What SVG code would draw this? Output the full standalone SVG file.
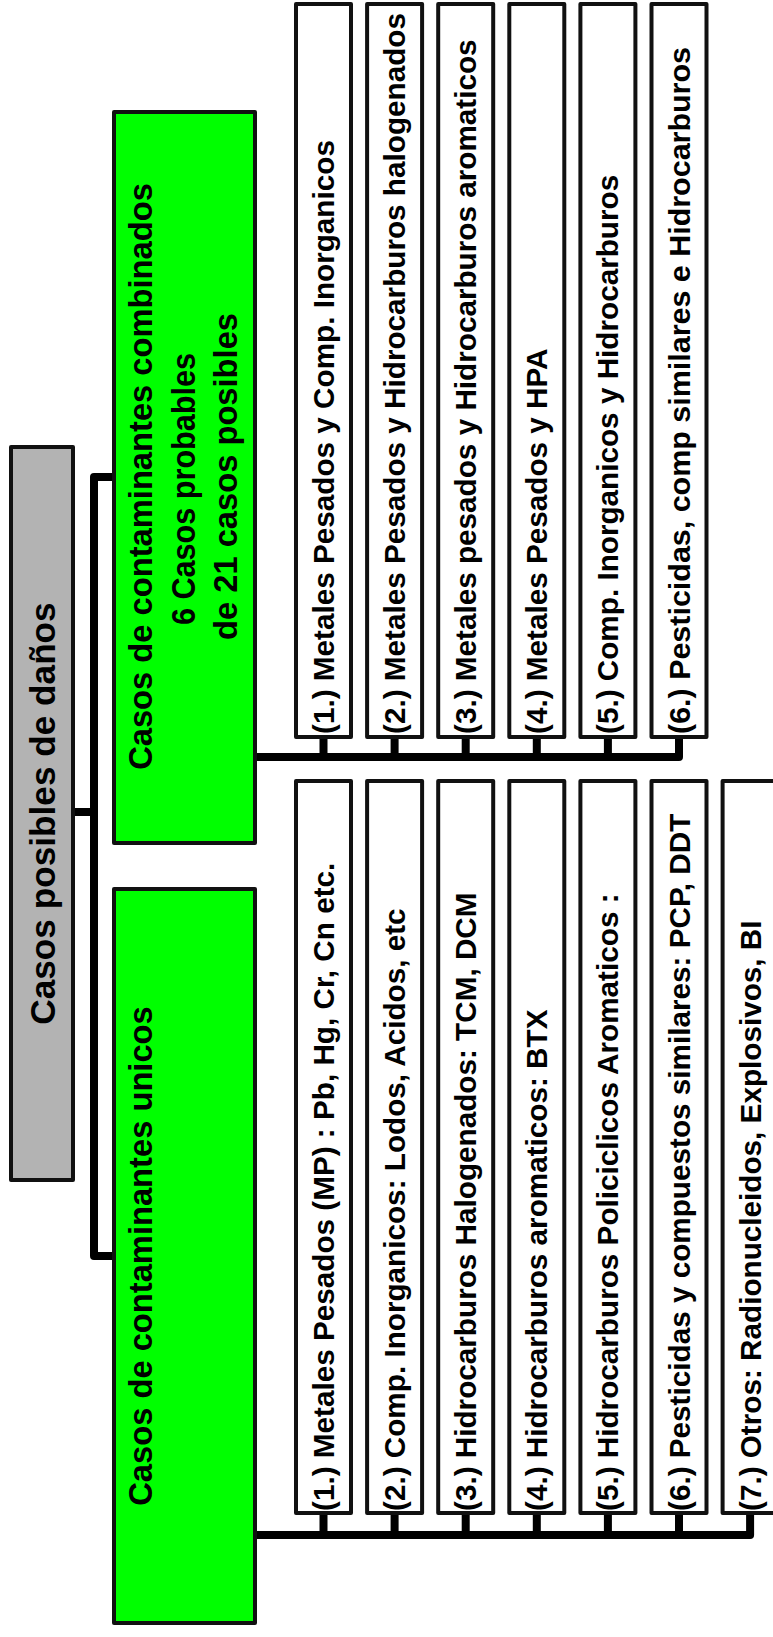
<svg xmlns="http://www.w3.org/2000/svg" width="773" height="1637" viewBox="0 0 773 1637">
<style>
.box{stroke:#111;stroke-width:4;stroke-linejoin:round}
.root{fill:#b3b3b3}
.green{fill:#00ff00}
.item{fill:#ffffff}
.conn{fill:none;stroke:#000;stroke-width:8;stroke-linejoin:round}
text{font-family:"Liberation Sans",Arial,sans-serif;fill:#000}
.t-root{font-size:35.2px;font-weight:bold}
.t-green{font-size:32.7px;font-weight:bold;text-anchor:middle}
.t-item{font-size:29.7px;font-weight:bold}
</style>
<rect width="773" height="1637" fill="#fff"/>
<g id="connectors" class="conn">
<path d="M75,812 H94"/>
<path d="M112,477 H94 V1256 H112"/>
<path d="M257,757 H679 V739"/>
<path d="M323.5,757 V739 M394.6,757 V739 M465.7,757 V739 M536.8,757 V739 M607.9,757 V739"/>
<path d="M257,1535 H750.1 V1515"/>
<path d="M323.5,1535 V1515 M394.6,1535 V1515 M465.7,1535 V1515 M536.8,1535 V1515 M607.9,1535 V1515 M679,1535 V1515"/>
</g>
<g id="root">
<rect class="box root" x="11" y="447" width="62" height="733"/>
<text class="t-root" text-anchor="middle" transform="translate(55,813.5) rotate(-90)">Casos posibles de daños</text>
</g>
<g id="combinados">
<rect class="box green" x="114" y="112" width="141" height="731"/>
<text class="t-green" transform="translate(152,476.5) rotate(-90)">Casos de contaminantes combinados</text>
<text class="t-green" transform="translate(194.5,489) rotate(-90)" textLength="272" lengthAdjust="spacingAndGlyphs">6 Casos probables</text>
<text class="t-green" transform="translate(237,476.5) rotate(-90)">de 21 casos posibles</text>
</g>
<g id="unicos">
<rect class="box green" x="114" y="889" width="141" height="734"/>
<text class="t-green" transform="translate(152,1256) rotate(-90)">Casos de contaminantes unicos</text>
</g>
<g id="comb1">
<rect class="box item" x="296" y="4" width="55" height="733"/>
<text class="t-item" transform="translate(334,734) rotate(-90)">(1.) Metales Pesados y Comp. Inorganicos</text>
</g>
<g id="comb2">
<rect class="box item" x="367.1" y="4" width="55" height="733"/>
<text class="t-item" transform="translate(405.1,734) rotate(-90)">(2.) Metales Pesados y Hidrocarburos halogenados</text>
</g>
<g id="comb3">
<rect class="box item" x="438.2" y="4" width="55" height="733"/>
<text class="t-item" transform="translate(476.2,734) rotate(-90)">(3.) Metales pesados y Hidrocarburos aromaticos</text>
</g>
<g id="comb4">
<rect class="box item" x="509.3" y="4" width="55" height="733"/>
<text class="t-item" transform="translate(547.3,734) rotate(-90)">(4.) Metales Pesados y HPA</text>
</g>
<g id="comb5">
<rect class="box item" x="580.4" y="4" width="55" height="733"/>
<text class="t-item" transform="translate(618.4,734) rotate(-90)">(5.) Comp. Inorganicos y Hidrocarburos</text>
</g>
<g id="comb6">
<rect class="box item" x="651.5" y="4" width="55" height="733"/>
<text class="t-item" transform="translate(689.5,734) rotate(-90)" textLength="687" lengthAdjust="spacingAndGlyphs">(6.) Pesticidas, comp similares e Hidrocarburos</text>
</g>
<g id="uni1">
<rect class="box item" x="296" y="781" width="55" height="732"/>
<text class="t-item" transform="translate(334,1511) rotate(-90)">(1.) Metales Pesados (MP) : Pb, Hg, Cr, Cn etc.</text>
</g>
<g id="uni2">
<rect class="box item" x="367.1" y="781" width="55" height="732"/>
<text class="t-item" transform="translate(405.1,1511) rotate(-90)">(2.) Comp. Inorganicos: Lodos, Acidos, etc</text>
</g>
<g id="uni3">
<rect class="box item" x="438.2" y="781" width="55" height="732"/>
<text class="t-item" transform="translate(476.2,1511) rotate(-90)">(3.) Hidrocarburos Halogenados: TCM, DCM</text>
</g>
<g id="uni4">
<rect class="box item" x="509.3" y="781" width="55" height="732"/>
<text class="t-item" transform="translate(547.3,1511) rotate(-90)">(4.) Hidrocarburos aromaticos: BTX</text>
</g>
<g id="uni5">
<rect class="box item" x="580.4" y="781" width="55" height="732"/>
<text class="t-item" transform="translate(618.4,1511) rotate(-90)">(5.) Hidrocarburos Policiclicos Aromaticos :</text>
</g>
<g id="uni6">
<rect class="box item" x="651.5" y="781" width="55" height="732"/>
<text class="t-item" transform="translate(689.5,1511) rotate(-90)">(6.) Pesticidas y compuestos similares: PCP, DDT</text>
</g>
<g id="uni7">
<rect class="box item" x="722.6" y="781" width="55" height="732"/>
<text class="t-item" transform="translate(760.6,1511) rotate(-90)">(7.) Otros: Radionucleidos, Explosivos, BI</text>
</g>
</svg>
